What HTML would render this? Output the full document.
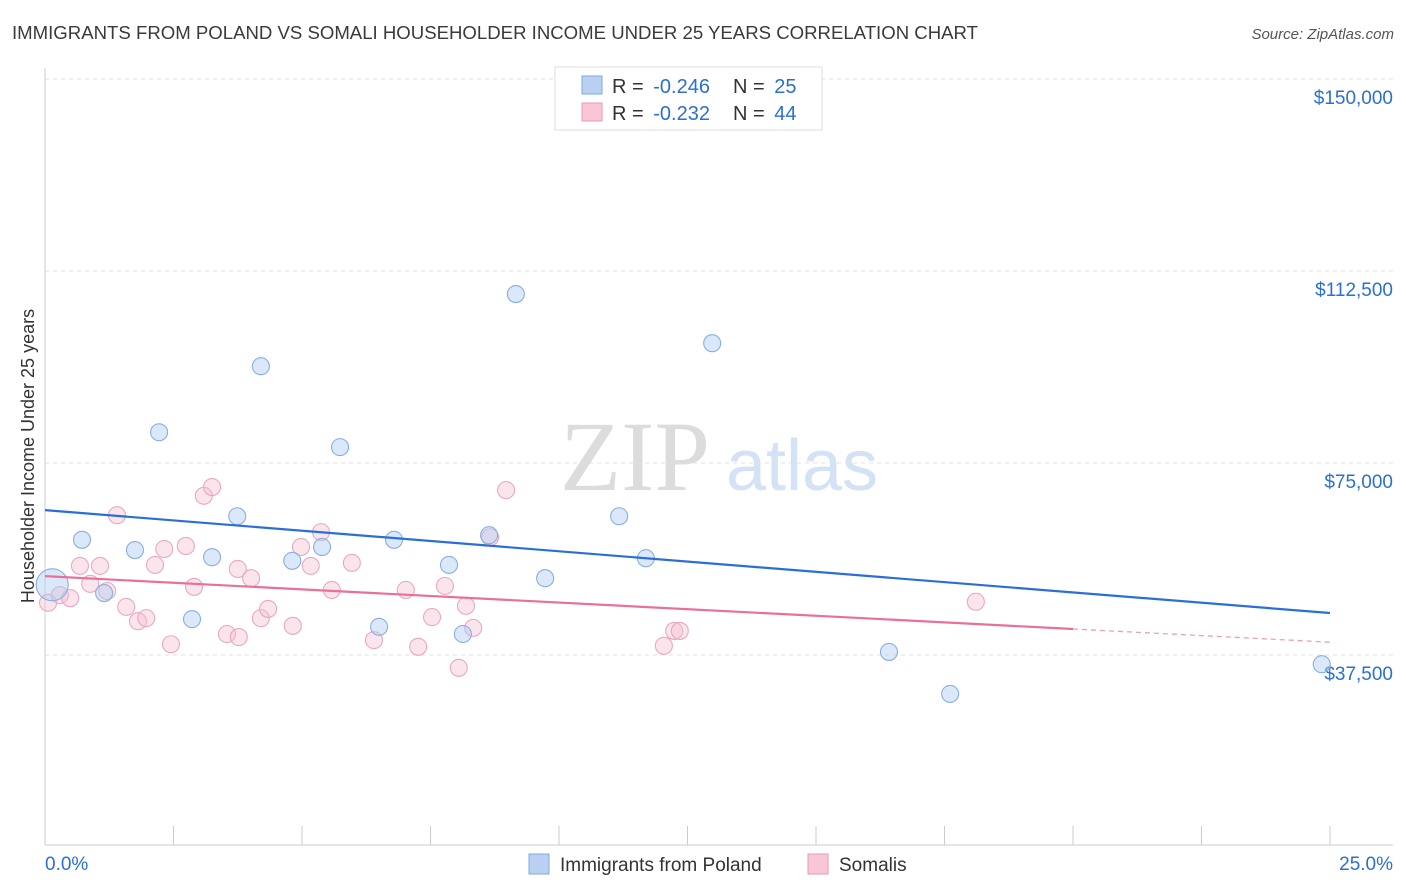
<!DOCTYPE html>
<html><head><meta charset="utf-8"><style>
body{margin:0;background:#fff;font-family:"Liberation Sans",sans-serif;}
svg{display:block}
</style></head><body>
<svg id="chart" width="1406" height="892" viewBox="0 0 1406 892" xmlns="http://www.w3.org/2000/svg">
<text x="12" y="39" font-size="18" fill="#3a3a3a" textLength="966" lengthAdjust="spacingAndGlyphs">IMMIGRANTS FROM POLAND VS SOMALI HOUSEHOLDER INCOME UNDER 25 YEARS CORRELATION CHART</text>
<text x="1394" y="39" font-size="15" fill="#555" text-anchor="end" font-style="italic">Source: ZipAtlas.com</text>
<g>
<text x="635" y="490" font-size="100" fill="#dcdcdc" font-family="Liberation Serif,serif" text-anchor="middle">ZIP</text>
<text x="802" y="490" font-size="72" fill="#d3e2f5" text-anchor="middle">atlas</text>
</g>
<g id="grid"></g>
<g id="axes"></g>
<g id="marks"></g>
<text transform="translate(34,456) rotate(-90)" font-size="18" fill="#333" text-anchor="middle">Householder Income Under 25 years</text>
<g>
<rect x="555" y="67" width="267" height="63" fill="#fff" stroke="#ddd"/>
<rect x="582" y="76" width="20" height="18" fill="#b9d0f3" stroke="#7fa8e0"/>
<text x="612" y="93" font-size="20" fill="#333">R = <tspan fill="#2a6fd6" dx="4">-0.246</tspan><tspan x="733">N = </tspan><tspan fill="#2a6fd6" dx="4">25</tspan></text>
<rect x="582" y="103" width="20" height="18" fill="#f8c6d6" stroke="#e79ab4"/>
<text x="612" y="120" font-size="20" fill="#333">R = <tspan fill="#2a6fd6" dx="4">-0.232</tspan><tspan x="733">N = </tspan><tspan fill="#2a6fd6" dx="4">44</tspan></text>
</g>
<g>
<rect x="529" y="854" width="20" height="20" fill="#b9d0f3" stroke="#7fa8e0"/>
<text x="560" y="871" font-size="19" fill="#333">Immigrants from Poland</text>
<rect x="808" y="854" width="20" height="20" fill="#f8c6d6" stroke="#e79ab4"/>
<text x="839" y="871" font-size="19" fill="#333">Somalis</text>
</g>
</svg>
<script>
const yTicks=[37500,75000,112500,150000];
const yTickLabels=["$37,500","$75,000","$112,500","$150,000"];
const xTickValues=[0,2.5,5,7.5,10,12.5,15,17.5,20,22.5,25];
const blueX=[0.14,0.72,1.15,1.75,2.22,2.86,3.25,3.74,4.20,4.81,5.39,5.74,6.50,6.79,7.86,8.13,8.64,9.16,9.73,11.17,11.69,12.98,16.42,17.61,24.84];
const blueY=[51200,60000,49600,58000,81000,44500,56600,64600,93900,55900,58600,78100,43000,60000,55100,41600,60900,108000,52500,64600,56400,98400,38100,29900,35700];
const pinkX=[0.06,0.29,0.49,0.68,0.88,1.07,1.21,1.40,1.58,1.81,1.97,2.14,2.32,2.45,2.74,2.90,3.09,3.25,3.54,3.75,3.77,4.01,4.20,4.34,4.82,4.98,5.17,5.37,5.58,5.97,6.40,7.02,7.26,7.53,7.78,8.05,8.19,8.33,8.66,8.97,12.04,12.24,12.35,18.11];
const pinkY=[47700,49200,48600,54900,51400,54900,50000,64800,46900,44100,44700,55100,58200,39600,58800,50800,68600,70300,41600,54300,41000,52500,44700,46500,43200,58600,54900,61500,50200,55500,40400,50200,39100,44900,51000,35000,47100,42800,60500,69700,39300,42200,42200,47900];
const blueTrend=[65800,45700];
const pinkTrend=[52900,40000];
const pinkSolidEnd=20;

const X0=45,X1=1330,YB=847,PX=192/37500;
const sx=v=>X0+(v/25)*(X1-X0);
const sy=v=>YB-v*PX;
const NS="http://www.w3.org/2000/svg";
function mk(tag,attrs,parent){const e=document.createElementNS(NS,tag);for(const k in attrs)e.setAttribute(k,attrs[k]);parent.appendChild(e);return e;}
const grid=document.getElementById('grid'),axes=document.getElementById('axes'),marks=document.getElementById('marks');
yTicks.forEach((t,i)=>{
  const l=mk('line',{x1:45,x2:1393,y1:sy(t),y2:sy(t),stroke:'#e2e2e2','stroke-dasharray':'4,4'},grid);
  
  
  const tx=mk('text',{x:1393,y:sy(t)+25,'font-size':19,fill:'#2a6fd6','text-anchor':'end'},axes);
  tx.textContent=yTickLabels[i];
  
  
});
const ya=mk('line',{x1:45,x2:45,y1:68,y2:845,stroke:'#ccc'},axes);


const xa=mk('line',{x1:45,x2:1393,y1:845,y2:845,stroke:'#ccc'},axes);


xTickValues.forEach(v=>{
  const t=mk('line',{x1:sx(v),x2:sx(v),y1:826,y2:845,stroke:'#ccc'},axes);
  
  
});
const xl0=mk('text',{x:45,y:870,'font-size':19,fill:'#2a6fd6'},axes);xl0.textContent='0.0%';


const xl1=mk('text',{x:1393,y:870,'font-size':19,fill:'#2a6fd6','text-anchor':'end'},axes);xl1.textContent='25.0%';



pinkX.forEach((x,i)=>{
  const c=mk('circle',{cx:sx(x),cy:sy(pinkY[i]),r:8.5,fill:'rgba(246,190,208,0.4)',stroke:'#eaa8c0','stroke-width':1.1},marks);
  
  
});
blueX.forEach((x,i)=>{
  const c=mk('circle',{cx:sx(x),cy:sy(blueY[i]),r:i===0?16:8.5,fill:'rgba(176,204,242,0.45)',stroke:'#88aee2','stroke-width':1.1},marks);
  
  
});
const bt=mk('line',{x1:sx(0),y1:sy(blueTrend[0]),x2:sx(25),y2:sy(blueTrend[1]),stroke:'#2a6fd6','stroke-width':2.2},marks);


const pAt=x=>pinkTrend[0]+(pinkTrend[1]-pinkTrend[0])*x/25;
const pt=mk('line',{x1:sx(0),y1:sy(pAt(0)),x2:sx(pinkSolidEnd),y2:sy(pAt(pinkSolidEnd)),stroke:'#e8709a','stroke-width':2.2},marks);


const pd=mk('line',{x1:sx(pinkSolidEnd),y1:sy(pAt(pinkSolidEnd)),x2:sx(25),y2:sy(pAt(25)),stroke:'#e8a0b8','stroke-width':1.3,'stroke-dasharray':'5,4'},marks);


</script>
</body></html>
